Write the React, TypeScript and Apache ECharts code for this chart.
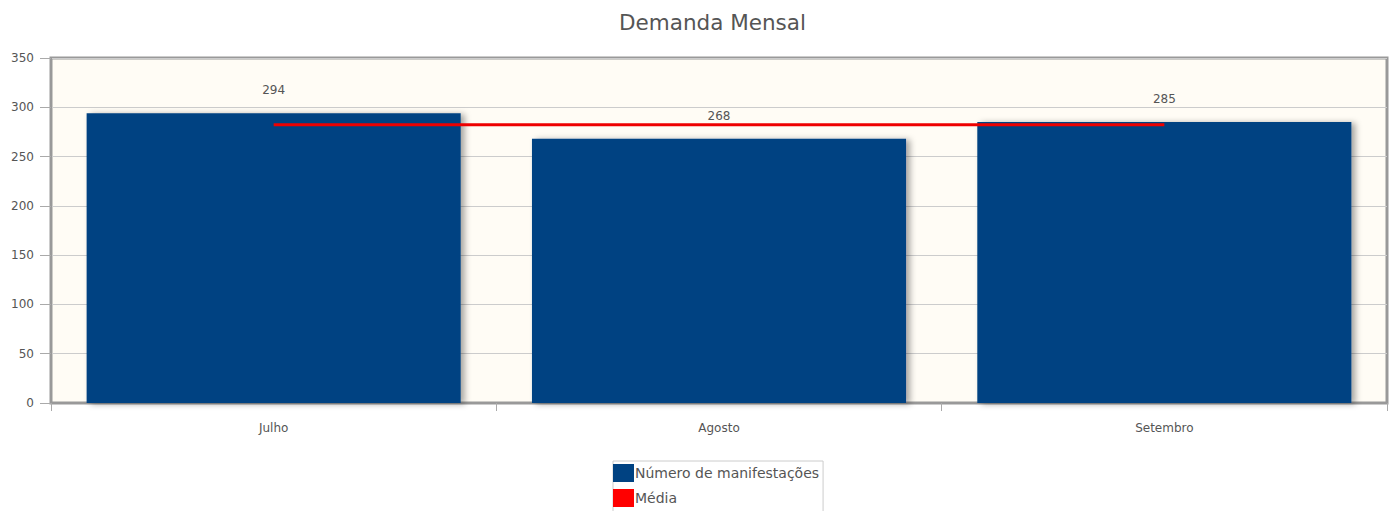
import React, { useEffect, useRef } from "react";
import * as echarts from "echarts";

const categories = ["Julho", "Agosto", "Setembro"];
const manifestacoes = [294, 268, 285];
const media = [282.33, 282.33, 282.33];
const yTicks = [0, 50, 100, 150, 200, 250, 300, 350];

const FONT = "DejaVu Sans";

export default function App() {
  const ref = useRef<HTMLDivElement>(null);
  useEffect(() => {
    if (!ref.current) return;
    const chart = echarts.init(ref.current, null, { renderer: "svg" });
    chart.setOption({
      animation: false,
      textStyle: { fontFamily: FONT },
      title: {
        text: "Demanda Mensal",
        left: 614,
        top: 6,
        textStyle: { fontFamily: FONT, fontSize: 21.5, fontWeight: "normal", color: "#555" },
      },
      grid: {
        left: 51,
        right: 10,
        top: 58,
        bottom: 108,
        show: true,
        backgroundColor: "#FFFCF5",
        borderColor: "#999",
        borderWidth: 3,
        containLabel: false,
      },
      legend: {
        orient: "vertical",
        left: 613,
        top: 461,
        width: 210,
        height: 70,
        icon: "rect",
        itemWidth: 21,
        itemHeight: 18,
        itemGap: 7,
        padding: [3, 4, 8, 0],
        borderColor: "#ccc",
        borderWidth: 1,
        backgroundColor: "#fff",
        textStyle: { fontFamily: FONT, fontSize: 14, color: "#555", padding: [0, 0, 0, -4] },
        data: ["Número de manifestações", "Média"],
      },
      xAxis: {
        type: "category",
        data: categories,
        boundaryGap: true,
        axisLine: { show: true, lineStyle: { color: "#999", width: 2 } },
        axisTick: { show: true, length: 8, lineStyle: { color: "#aaa" } },
        axisLabel: { margin: 19, fontSize: 12, color: "#555", fontFamily: FONT },
        splitLine: { show: false },
      },
      yAxis: {
        type: "value",
        min: yTicks[0],
        max: yTicks[yTicks.length - 1],
        interval: 50,
        axisLine: { show: true, lineStyle: { color: "#999", width: 2 } },
        axisTick: { show: true, length: 11, lineStyle: { color: "#aaa" } },
        axisLabel: { margin: 17, fontSize: 12, color: "#555", fontFamily: FONT },
        splitLine: { show: true, lineStyle: { color: "#ccc", width: 1 } },
      },
      series: [
        {
          name: "Número de manifestações",
          type: "bar",
          data: manifestacoes,
          barWidth: "84%",
          itemStyle: {
            color: "#004282",
            shadowColor: "rgba(0,0,0,0.35)",
            shadowBlur: 6,
            shadowOffsetX: 4,
            shadowOffsetY: 1,
          },
          label: {
            show: true,
            position: "top",
            distance: 17,
            fontSize: 12,
            color: "#555",
            fontFamily: FONT,
          },
          z: 2,
        },
        {
          name: "Média",
          type: "line",
          data: media,
          symbol: "none",
          showSymbol: false,
          itemStyle: { color: "#FF0000" },
          lineStyle: { color: "#EE0000", width: 3 },
          z: 3,
        },
      ],
    });
    return () => chart.dispose();
  }, []);
  return (
    <div
      ref={ref}
      style={{ position: "fixed", left: 0, top: 0, width: 1397, height: 511, background: "#fff" }}
    />
  );
}
